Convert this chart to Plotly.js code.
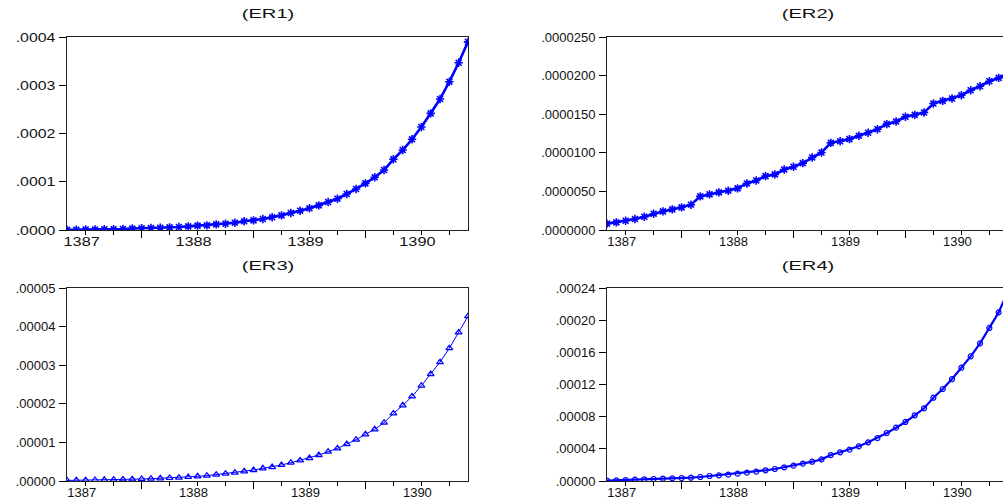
<!DOCTYPE html>
<html>
<head>
<meta charset="utf-8">
<script src="https://cdn.plot.ly/plotly-3.0.1.min.js"></script>
<style>
html,body{margin:0;padding:0;overflow:hidden;background:#fff;}
#chart{width:1012px;height:501px;}
</style>
</head>
<body>
<div id="chart"></div>
<script>
// Monthly observations, 1386M11 .. 1390M06
const months = [
 '1386M11','1386M12',
 '1387M01','1387M02','1387M03','1387M04','1387M05','1387M06','1387M07','1387M08','1387M09','1387M10','1387M11','1387M12',
 '1388M01','1388M02','1388M03','1388M04','1388M05','1388M06','1388M07','1388M08','1388M09','1388M10','1388M11','1388M12',
 '1389M01','1389M02','1389M03','1389M04','1389M05','1389M06','1389M07','1389M08','1389M09','1389M10','1389M11','1389M12',
 '1390M01','1390M02','1390M03','1390M04','1390M05','1390M06'
];
const yearLabels = ['1387','1388','1389','1390'];
const panelTitles = ['(ER1)','(ER2)','(ER3)','(ER4)'];

const er1 = [0.05e-5,0.05e-5,0.1e-5,0.1e-5,0.15e-5,0.15e-5,0.2e-5,0.3e-5,0.35e-5,0.4e-5,0.48e-5,0.55e-5,0.62e-5,0.76e-5,
 0.9e-5,0.96e-5,1.16e-5,1.3e-5,1.51e-5,1.8e-5,2.0e-5,2.28e-5,2.63e-5,3.04e-5,3.52e-5,4.0e-5,4.5e-5,5.11e-5,
 5.8e-5,6.49e-5,7.46e-5,8.5e-5,9.67e-5,10.92e-5,12.44e-5,14.65e-5,16.58e-5,18.8e-5,21.35e-5,24.18e-5,27.15e-5,
 30.74e-5,34.67e-5,39.0e-5];
const er2 = [0.82e-6,0.99e-6,1.2e-6,1.42e-6,1.72e-6,2.11e-6,2.41e-6,2.67e-6,2.93e-6,3.28e-6,4.35e-6,4.61e-6,4.87e-6,
 5.09e-6,5.39e-6,6.03e-6,6.42e-6,6.98e-6,7.2e-6,7.84e-6,8.19e-6,8.66e-6,9.4e-6,10.04e-6,11.29e-6,11.5e-6,11.77e-6,
 12.2e-6,12.59e-6,13.06e-6,13.71e-6,14.05e-6,14.66e-6,14.91e-6,15.22e-6,16.38e-6,16.72e-6,17.03e-6,17.46e-6,
 18.1e-6,18.62e-6,19.27e-6,19.7e-6,20.3e-6];
const er3 = [0.15e-6,0.18e-6,0.22e-6,0.26e-6,0.3e-6,0.34e-6,0.4e-6,0.43e-6,0.52e-6,0.6e-6,0.69e-6,0.78e-6,0.86e-6,
 1.03e-6,1.21e-6,1.38e-6,1.64e-6,1.9e-6,2.16e-6,2.5e-6,2.84e-6,3.28e-6,3.62e-6,4.14e-6,4.74e-6,5.34e-6,5.95e-6,
 6.72e-6,7.59e-6,8.45e-6,9.57e-6,10.7e-6,12.1e-6,13.4e-6,15.1e-6,17.5e-6,19.6e-6,21.9e-6,24.7e-6,27.7e-6,30.8e-6,
 34.4e-6,38.5e-6,42.7e-6];
const er4 = [0.05e-5,0.08e-5,0.12e-5,0.17e-5,0.21e-5,0.25e-5,0.29e-5,0.33e-5,0.37e-5,0.41e-5,0.5e-5,0.62e-5,0.7e-5,
 0.79e-5,0.91e-5,1.04e-5,1.16e-5,1.33e-5,1.49e-5,1.7e-5,1.91e-5,2.16e-5,2.4e-5,2.69e-5,3.23e-5,3.57e-5,3.9e-5,
 4.31e-5,4.81e-5,5.35e-5,5.97e-5,6.63e-5,7.34e-5,8.17e-5,9.04e-5,10.36e-5,11.44e-5,12.68e-5,14.09e-5,15.5e-5,
 17.12e-5,19.03e-5,20.97e-5,23.6e-5];

const y1Ticks = [0,0.0001,0.0002,0.0003,0.0004];
const y1Text = ['.0000','.0001','.0002','.0003','.0004'];
const y2Ticks = [0,0.000005,0.00001,0.000015,0.00002,0.000025];
const y2Text = ['.0000000','.0000050','.0000100','.0000150','.0000200','.0000250'];
const y3Ticks = [0,0.00001,0.00002,0.00003,0.00004,0.00005];
const y3Text = ['.00000','.00001','.00002','.00003','.00004','.00005'];
const y4Ticks = [0,0.00004,0.00008,0.00012,0.00016,0.0002,0.00024];
const y4Text = ['.00000','.00004','.00008','.00012','.00016','.00020','.00024'];

const x = months.map((m, i) => i);
// quarterly ticks; year labels on first month of each year, long ticks mid-year
const longIdx = months.map((m, i) => m.endsWith('M07') ? i : -1).filter(i => i >= 0);
const shortIdx = months.map((m, i) => (['M01','M04','M10'].some(s => m.endsWith(s))) ? i : -1).filter(i => i >= 0);
const shortText = shortIdx.map(i => months[i].endsWith('M01') ? months[i].slice(0,4) : '');

const W = 1012, H = 501;
const colL = [67, 468], colR = [607, 1008];
const rowT = [37, 230], rowB = [288, 481];
const dx = c => [c[0]/W, c[1]/W];
const dy = r => [1 - r[1]/H, 1 - r[0]/H];

const blue = '#0000ff';
const font = {family: 'Liberation Sans, Arial, sans-serif', size: 13, color: '#111'};

function xAxis(anchor, col) {
  return {
    domain: dx(col), anchor: anchor, range: [0, months.length - 1],
    tickmode: 'array', tickvals: shortIdx, ticktext: shortText,
    ticks: 'outside', ticklen: 4, tickwidth: 1, tickcolor: '#000',
    minor: {tickmode: 'array', tickvals: longIdx, ticks: 'outside', ticklen: 7, tickwidth: 1, tickcolor: '#000', showgrid: false},
    showline: true, mirror: true, linecolor: '#222', linewidth: 1,
    showgrid: false, zeroline: false, tickfont: font, ticklabelshift: -4, ticklabelstandoff: -5, fixedrange: true
  };
}
function yAxis(anchor, row, tv, tt) {
  return {
    domain: dy(row), anchor: anchor, range: [0, tv[tv.length - 1]],
    tickmode: 'array', tickvals: tv, ticktext: tt,
    ticks: 'outside', ticklen: 7, tickwidth: 1, tickcolor: '#000',
    showline: true, mirror: true, linecolor: '#222', linewidth: 1,
    showgrid: false, zeroline: false, tickfont: font, ticklabelstandoff: 1, fixedrange: true
  };
}

const traces = [
  {x: x, y: er1, xaxis: 'x', yaxis: 'y', mode: 'lines+markers',
   line: {color: blue, width: 2.6},
   marker: {symbol: 'asterisk-open', size: 7, color: blue, line: {color: blue, width: 1.6}}},
  {x: x, y: er2, xaxis: 'x2', yaxis: 'y2', mode: 'lines+markers',
   line: {color: blue, width: 2.6},
   marker: {symbol: 'asterisk-open', size: 7, color: blue, line: {color: blue, width: 1.6}}},
  {x: x, y: er3, xaxis: 'x3', yaxis: 'y3', mode: 'lines+markers',
   line: {color: blue, width: 1},
   marker: {symbol: 'triangle-up-open', size: 6, color: blue, line: {color: blue, width: 1.2}}},
  {x: x, y: er4, xaxis: 'x4', yaxis: 'y4', mode: 'lines+markers',
   line: {color: blue, width: 2.2},
   marker: {symbol: 'circle-open', size: 5, color: blue, line: {color: blue, width: 1.2}}}
];

const cols = [colL, colR, colL, colR];
const rows = [rowT, rowT, rowB, rowB];
const annotations = panelTitles.map((t, i) => ({
  text: t, xref: 'paper', yref: 'paper',
  x: (cols[i][0] + cols[i][1]) / 2 / W, y: 1 - (rows[i][0] - 23) / H,
  xanchor: 'center', yanchor: 'middle', showarrow: false,
  font: {family: 'Liberation Sans, Arial, sans-serif', size: 13, color: '#111'}
}));

const layout = {
  width: W, height: H, margin: {l: 0, r: 0, t: 0, b: 0},
  paper_bgcolor: '#fff', plot_bgcolor: '#fff', showlegend: false,
  xaxis: xAxis('y', colL), yaxis: yAxis('x', rowT, y1Ticks, y1Text),
  xaxis2: xAxis('y2', colR), yaxis2: yAxis('x2', rowT, y2Ticks, y2Text),
  xaxis3: xAxis('y3', colL), yaxis3: yAxis('x3', rowB, y3Ticks, y3Text),
  xaxis4: xAxis('y4', colR), yaxis4: yAxis('x4', rowB, y4Ticks, y4Text),
  annotations: annotations
};

function widen(gd, sel, f) {
  gd.querySelectorAll(sel).forEach(t => {
    const w = t.getComputedTextLength();
    if (w > 0) {
      t.setAttribute('textLength', (w * f).toFixed(1));
      t.setAttribute('lengthAdjust', 'spacingAndGlyphs');
    }
  });
}

Plotly.newPlot('chart', traces, layout, {displayModeBar: false, staticPlot: true}).then(gd => {
  widen(gd, '.xtick text', 1.25);
  widen(gd, '.ytick text', 1.22);
  widen(gd, '.annotation-text', 1.55);
});
</script>
</body>
</html>
